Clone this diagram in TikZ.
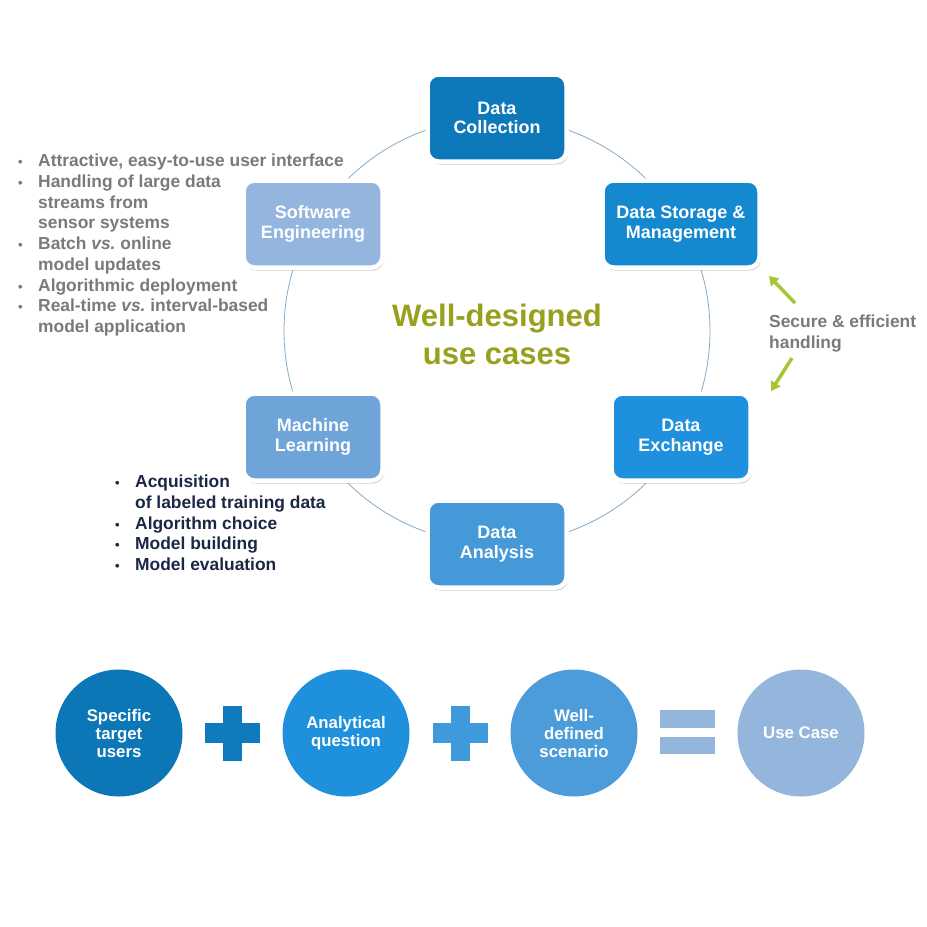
\documentclass[tikz,border=0pt]{standalone}
\usepackage{fontspec}
\setmainfont{Liberation Sans}
\usetikzlibrary{shadows,arrows.meta}
\definecolor{cCol}{HTML}{0E79BA}
\definecolor{cSto}{HTML}{1589CF}
\definecolor{cExc}{HTML}{1E90DD}
\definecolor{cAna}{HTML}{4699D9}
\definecolor{cMac}{HTML}{6EA4D7}
\definecolor{cSof}{HTML}{94B6DE}
\definecolor{cRing}{HTML}{86ABC6}
\definecolor{cOlive}{HTML}{98A01E}
\definecolor{cArrow}{HTML}{A5C733}
\definecolor{cGray}{HTML}{7A7A7A}
\definecolor{cNavy}{HTML}{1B2845}
\definecolor{bOne}{HTML}{0B77B7}
\definecolor{bPlusA}{HTML}{0F7BBE}
\definecolor{bTwo}{HTML}{1E90DC}
\definecolor{bPlusB}{HTML}{3F9ADC}
\definecolor{bThree}{HTML}{4D9CDA}
\definecolor{bEq}{HTML}{93B5DC}
\definecolor{bFour}{HTML}{94B6DD}
\newcommand{\bul}{\makebox[20pt][l]{\fontsize{13}{13}\selectfont\textbullet}}
\newcommand{\ind}{\hspace*{20pt}}
\frenchspacing
\tikzset{
  stagebox/.style={rounded corners=11pt, draw=white, line width=4.5pt, fill=#1,
    minimum width=139pt, minimum height=87pt, text=white, align=center,
    font=\bfseries\fontsize{18}{19.5}\selectfont, inner sep=2pt,
    drop shadow={shadow xshift=1.5pt, shadow yshift=-3pt, fill=black!30, opacity=0.6}},
  ballnode/.style={circle, fill=#1, minimum size=127pt, inner sep=0pt, text=white,
    align=center, font=\bfseries\fontsize{16.8}{18}\selectfont},
  bulletlist/.style={align=left, anchor=north west, inner sep=0pt,
    font=\bfseries\fontsize{17.4}{20.7}\selectfont},
  ring/.style={draw=cRing, line width=0.8pt},
  greenarrow/.style={draw=cArrow, line width=3.5pt, -{Triangle[width=11pt,length=9pt]}},
  barshape/.style={fill=#1, draw=none}
}
\begin{document}
\begin{tikzpicture}[x=1pt,y=-1pt]
\useasboundingbox (0,0) rectangle (927,927);
\fill[white] (0,0) rectangle (927,927);
% ring
\coordinate (ctr) at (497,331);
\draw[ring] (ctr) circle[radius=213];
% stages
\node[stagebox=cCol] (col) at (497,118) {Data\\Collection};
\node[stagebox=cSto, minimum width=157pt] (sto) at (681,224) {Data Storage \&\\Management};
\node[stagebox=cExc] (exc) at (681,437) {Data\\Exchange};
\node[stagebox=cAna] (ana) at (497,544) {Data\\Analysis};
\node[stagebox=cMac] (mac) at (313,437) {Machine\\Learning};
\node[stagebox=cSof] (sof) at (313,224) {Software\\Engineering};
% center title
\node[text=cOlive, align=center, font=\bfseries\fontsize{31}{38}\selectfont] (title) at (497,334) {Well-designed\\use cases};
% left bullets
\node[bulletlist, text=cGray] (swlist) at (18,154) {%
\bul Attractive, easy-to-use user interface\\
\bul Handling of large data\\
\ind streams from\\
\ind sensor systems\\
\bul Batch \textit{vs.} online\\
\ind model updates\\
\bul Algorithmic deployment\\
\bul Real-time \textit{vs.} interval-based\\
\ind model application};
\node[bulletlist, text=cNavy] (mllist) at (115,475) {%
\bul Acquisition\\
\ind of labeled training data\\
\bul Algorithm choice\\
\bul Model building\\
\bul Model evaluation};
% secure handling
\node[bulletlist, text=cGray] (sec) at (769,315) {Secure \& efficient\\handling};
\coordinate (a1s) at (795,303);
\coordinate (a1e) at (769,276);
\coordinate (a2s) at (792,358);
\coordinate (a2e) at (771,391);
\draw[greenarrow] (a1s) -- (a1e);
\draw[greenarrow] (a2s) -- (a2e);
% bottom equation
\node[ballnode=bOne] (users) at (119,733) {Specific\\target\\users};
\node[ballnode=bTwo] (question) at (346,733) {Analytical\\question};
\node[ballnode=bThree] (scenario) at (574,733) {Well-\\defined\\scenario};
\node[ballnode=bFour] (usecase) at (801,733) {Use Case};
\coordinate (p1) at (232,733);
\coordinate (p2) at (460,733);
\fill[barshape=bPlusA] ([xshift=-27.5pt,yshift=-10pt]p1) rectangle ([xshift=27.5pt,yshift=10pt]p1);
\fill[barshape=bPlusA] ([xshift=-9.5pt,yshift=-27.5pt]p1) rectangle ([xshift=9.5pt,yshift=27.5pt]p1);
\fill[barshape=bPlusB] ([xshift=-27.5pt,yshift=-10pt]p2) rectangle ([xshift=27.5pt,yshift=10pt]p2);
\fill[barshape=bPlusB] ([xshift=-9.5pt,yshift=-27.5pt]p2) rectangle ([xshift=9.5pt,yshift=27.5pt]p2);
\fill[barshape=bEq] (660,710) rectangle (715,728);
\fill[barshape=bEq] (660,737) rectangle (715,754);
\end{tikzpicture}
\end{document}
